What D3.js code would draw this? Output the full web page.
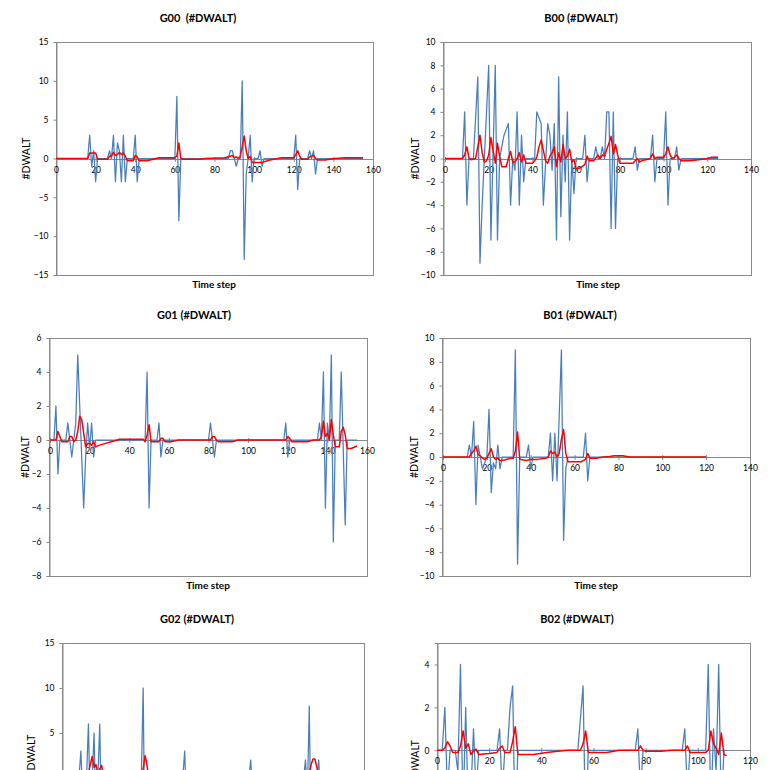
<!DOCTYPE html>
<html><head><meta charset="utf-8">
<script src="https://cdn.jsdelivr.net/npm/d3@7"></script>
<style>body{margin:0;background:#fff}svg{display:block}text{font-family:Lato,"Open Sans",sans-serif}</style>
</head><body><svg id="c" width="776" height="770"></svg>
<script>
// ---- data: [time step, value] vertices of each series ----
const g00Blue = [[0,0],[16,0],[17,3],[18,-1],[19,1],[20,-3],[21,0],[26,0],[27,1],[28,0],[29,3],[30,-3],[31,2],[32,1],[33,-3],[34,3],[35,-3],[36,0],[39,0],[40,3],[41,-3],[42,0],[60,0],[61,8],[62,-8],[63,0],[87,0],[88,1],[89,1],[90,0],[91,-1],[92,0],[93,0],[94,10],[95,-13],[96,-2],[97,0],[98,3],[99,-3],[100,0],[102,0],[103,1],[104,-1],[105,0],[120,0],[121,3],[122,-4],[123,0],[127,0],[128,1],[129,0],[130,1],[131,-2],[132,0],[155,0]];
const g00Red = [[0,0],[16,0],[17,0.7],[20,0.7],[21,-0.1],[26,-0.1],[27,0.3],[28,0.3],[29,0.8],[30,0.4],[31,0.5],[32,0.8],[33,0.5],[34,0.7],[35,0.3],[36,-0.3],[39,-0.3],[40,0.4],[41,0.2],[42,-0.3],[46,-0.3],[49,-0.1],[52,0.1],[60,0.1],[61,0.3],[62,2],[63,0],[64,-0.1],[73,-0.1],[75,0],[85,0.1],[88,0.3],[89,0.4],[90,0.1],[91,0.2],[92,0],[93,0.3],[94,1.5],[95,2.9],[96,1.0],[97,0],[98,0.3],[99,-0.5],[104,-0.5],[108,-0.2],[112,0],[114,0.1],[120,0.1],[121,0.5],[122,1.0],[123,0.3],[124,-0.1],[127,-0.1],[128,0.2],[129,0.3],[130,0.4],[131,0],[132,-0.2],[136,-0.2],[138,-0.1],[141,0],[146,0.1],[155,0.1]];

const b00Blue = [[0,0],[8,0],[9,4],[10,-4],[11,0],[13,0],[15,7],[16,-9],[17,-4],[18,0],[20,8],[21,-7],[23,8],[24,-7],[25,0],[27,2],[29,3],[30,-4],[31,0],[32,-1],[33,4],[34,-4],[35,2],[36,-2],[37,0],[41,0],[42,4],[44,3],[45,-4],[47,3],[48,2],[49,-1],[50,3],[51,-7],[52,7],[53,-5],[54,2],[55,-2],[56,4],[57,-7],[58,0],[59,-3],[60,0],[63,0],[64,2],[65,-2],[66,0],[68,0],[69,1],[70,0],[71,0],[72,1],[73,0],[74,4],[75,4],[76,-6],[77,4],[78,-6],[79,0],[86,0],[87,1],[88,-1],[89,0],[94,0],[95,2],[96,-2],[97,0],[100,0],[101,4],[102,-4],[103,0],[105,0],[106,1],[107,-1],[108,0],[125,0]];
const b00Red = [[0,0],[8,0],[9,0.3],[10,1],[11,0],[12,-0.1],[14,0],[15,1],[16,2],[17,0.5],[18,-0.3],[19,-0.2],[20,0.3],[21,1.8],[22,0.7],[23,-0.4],[24,1.3],[25,0.2],[26,-0.7],[28,-0.7],[29,0],[30,0.6],[31,-0.3],[32,-0.3],[33,0],[34,0.5],[35,-0.3],[36,0.3],[37,-0.4],[40,-0.4],[41,-0.2],[42,0.1],[43,1],[44,1.6],[45,0.7],[46,-0.2],[47,-0.4],[48,0.2],[49,0.5],[50,1],[51,-0.7],[52,0.5],[53,-0.3],[54,1.2],[55,0],[56,0.2],[57,0.8],[58,-0.3],[59,-0.1],[60,-0.9],[62,-0.8],[64,-0.5],[65,0.2],[66,-0.2],[68,-0.2],[70,0.3],[71,0],[72,0.3],[73,0.2],[74,0.8],[75,1.3],[76,1.9],[77,0.4],[78,1.2],[79,0.3],[80,-0.4],[86,-0.4],[87,-0.2],[88,0],[89,-0.3],[90,-0.2],[94,0],[95,0.4],[96,0],[97,0.1],[100,0.1],[101,0.4],[102,1],[103,0.3],[104,0],[105,0.1],[106,0.3],[107,0],[108,-0.2],[112,-0.2],[116,-0.1],[120,0],[122,0.1],[125,0.1]];

const g01Blue = [[0,0],[2,0],[3,2],[4,-2],[5,0],[8,0],[9,1],[10,0],[11,-1],[12,0],[13,1],[14,5],[17,-4],[18,-1],[19,1],[20,-0.5],[21,1],[22,-1],[23,0],[48,0],[49,4],[50,-4],[51,0],[54,0],[55,1],[56,-1],[57,0],[80,0],[81,1],[83,-1],[84,0],[118,0],[119,1],[120,-1],[121,0],[135,0],[136,1],[137,0],[138,4],[139,-4],[140,1],[141,0],[142,5],[143,-6],[144,0],[146,0],[147,4],[149,-5],[150,0],[155,0]];
const g01Red = [[0,0],[3,0],[4,0.5],[5,0.2],[6,-0.1],[9,-0.1],[10,0.2],[11,0.2],[12,-0.1],[13,0],[14,0.5],[15,1.4],[16,1.2],[17,0.4],[18,-0.4],[19,-0.2],[20,-0.2],[21,-0.3],[22,-0.1],[23,-0.4],[25,-0.3],[28,-0.2],[31,-0.1],[34,0],[35,0.05],[47,0.05],[48,-0.1],[49,0.3],[50,0.9],[51,-0.1],[55,-0.1],[56,0.1],[57,0.1],[58,-0.1],[61,-0.1],[65,0],[81,0],[82,0.2],[83,0.2],[84,0],[85,-0.1],[92,-0.1],[95,0],[119,0],[120,0.2],[121,0.1],[122,-0.1],[130,-0.1],[133,0],[136,0],[137,0.2],[138,1.1],[139,0.2],[140,0.4],[141,0],[142,1.2],[143,0.3],[144,-0.4],[146,-0.4],[147,0.5],[148,0.75],[149,0.3],[150,-0.5],[152,-0.5],[155,-0.35]];

const b01Blue = [[0,0],[11,0],[12,1],[13,0],[14,3],[15,-4],[16,1],[17,0],[18,-1],[20,0],[21,4],[22,-3],[23,-0.5],[24,-1],[25,1],[26,-1],[27,0],[32,0],[33,9],[34,-9],[35,0],[38,0],[39,1],[40,-1],[41,0],[48,0],[49,2],[50,-2],[51,2],[52,-2],[54,9],[55,-7],[56,-1],[57,0],[64,0],[65,2],[66,-2],[67,0],[120,0]];
const b01Red = [[0,0],[12,0],[13,0.3],[14,0.5],[15,0.9],[16,0.2],[17,0.1],[18,-0.1],[19,-0.2],[20,-0.1],[21,0.3],[22,0.7],[23,0],[24,-0.2],[25,-0.1],[26,-0.3],[28,-0.25],[31,-0.1],[32,-0.1],[33,0.5],[34,2.1],[35,-0.2],[38,-0.3],[40,-0.2],[43,-0.2],[47,-0.1],[48,0],[49,0.5],[50,0.3],[51,0.4],[52,0],[53,0.3],[54,1.5],[55,2.3],[56,0.3],[57,-0.4],[63,-0.4],[64,-0.3],[65,-0.2],[66,0.3],[67,-0.1],[70,-0.1],[73,0],[76,0.05],[78,0.1],[82,0.1],[85,0],[120,0]];

const g02Blue = [[0,0],[9,0],[10,3],[11,-2],[13,0],[14,6],[15,-4],[16,0],[17,5],[18,-5],[19,0],[20,6],[21,-6],[22,0],[42,0],[43,10],[44,-10],[45,0],[64,0],[65,3],[66,-3],[67,0],[99,0],[100,2],[101,-2],[102,0],[128,0],[129,2],[130,-2],[131,8],[132,-8],[133,0],[135,0],[136,2],[137,-2],[138,0],[155,0]];
const g02Red = [[0,0],[10,0],[11,0.8],[12,0.3],[14,0.5],[15,1.5],[16,2.4],[17,1.2],[18,1.5],[19,0.5],[20,1],[21,1.4],[22,0],[23,-0.3],[42,0],[43,1],[44,2.5],[45,1.5],[46,-0.2],[65,0.3],[66,0.8],[67,-0.1],[100,0.2],[101,0.6],[102,0],[130,0.5],[131,0.5],[132,1.5],[133,2.1],[134,2.1],[135,1.2],[136,0.2],[137,0.6],[138,-0.2],[155,0]];

const b02Blue = [[0,0],[2,0],[3,2],[4,-2],[5,0],[7,0],[8,-1],[9,4],[10,-3],[11,2],[12,-3],[13,-2],[14,1],[15,-2],[16,0],[22,0],[23,0],[24,1],[25,-2],[26,0],[27,0],[28,2],[29,3],[30,-4],[31,0],[54,0],[56,3],[57,-4],[58,0],[76,0],[77,1],[78,-2],[79,0],[94,0],[95,1],[96,-2],[97,0],[103,0],[104,4],[105,-3],[106,1],[107,-1],[108,4],[109,-3],[110,0],[111,0]];
const b02Red = [[0,0],[2,0],[3,0.1],[4,0.4],[5,0.2],[6,-0.1],[8,-0.1],[9,0.2],[10,0.9],[11,0.1],[12,0.3],[13,-0.2],[14,0],[15,0.05],[16,-0.2],[20,-0.15],[23,-0.1],[24,0.1],[25,0.2],[26,-0.1],[28,-0.1],[29,0.4],[30,1.1],[31,-0.2],[37,-0.2],[42,-0.1],[50,0],[55,0],[56,0.3],[57,0.9],[58,-0.1],[65,-0.1],[70,0],[77,0],[78,0.2],[79,0],[80,-0.05],[86,-0.05],[90,0],[95,0],[96,0.2],[97,-0.1],[103,-0.1],[104,0],[105,0.9],[106,0.3],[107,0.1],[108,-0.2],[109,0.8],[110,-0.2],[111,-0.25]];

// tick values
const xTicks160 = [0,20,40,60,80,100,120,140,160];
const xTicks140 = [0,20,40,60,80,100,120,140];
const xTicks120 = [0,20,40,60,80,100,120];
const yTicks15 = [-15,-10,-5,0,5,10,15];
const yTicks10 = [-10,-8,-6,-4,-2,0,2,4,6,8,10];
const yTicks6 = [-8,-6,-4,-2,0,2,4,6];
const yTicksG02 = [-10,-5,0,5,10,15];
const yTicksB02 = [-6,-4,-2,0,2,4];

const titles = ["G00  (#DWALT)","B00 (#DWALT)","G01 (#DWALT)","B01 (#DWALT)","G02 (#DWALT)","B02 (#DWALT)"];

// ---- layout ----
const panels = [
 {title:titles[0], blue:g00Blue, red:g00Red, xMax:160, xTicks:xTicks160, yDom:[-15,15], yTicks:yTicks15,
  L:56, R:373, T:42, B:275, x0:56, tx:198, ty:22, lx:214, ly:288, yx:26},
 {title:titles[1], blue:b00Blue, red:b00Red, xMax:140, xTicks:xTicks140, yDom:[-10,10], yTicks:yTicks10,
  L:443, R:751, T:42, B:275, x0:445, tx:581, ty:22, lx:598, ly:288, yx:415},
 {title:titles[2], blue:g01Blue, red:g01Red, xMax:160, xTicks:xTicks160, yDom:[-8,6], yTicks:yTicks6,
  L:49, R:367, T:338, B:576, x0:50, tx:194, ty:319, lx:208, ly:589, yx:25},
 {title:titles[3], blue:b01Blue, red:b01Red, xMax:140, xTicks:xTicks140, yDom:[-10,10], yTicks:yTicks10,
  L:442, R:750, T:338, B:576, x0:443, tx:580, ty:319, lx:596, ly:589, yx:414},
 {title:titles[4], blue:g02Blue, red:g02Red, xMax:160, xTicks:xTicks160, yDom:[-10,15], yTicks:yTicksG02,
  L:62, R:364, T:643, B:868, x0:62, tx:197, ty:623, lx:213, ly:880, yx:31},
 {title:titles[5], blue:b02Blue, red:b02Red, xMax:120, xTicks:xTicks120, yDom:[-6,5], yTicks:yTicksB02,
  L:437, R:750, T:643, B:879, x0:437, tx:577, ty:623, lx:594, ly:890, yx:415}
];

const H = 770;
const svg = d3.select("#c");
const axisCol = "#898989";

panels.forEach(p => {
  const g = svg.append("g");
  const x = d3.scaleLinear().domain([0, p.xMax]).range([p.x0, p.R]);
  const y = d3.scaleLinear().domain(p.yDom).range([p.B, p.T]);
  const y0 = Math.round(y(0)) + 0.5;

  // plot area border
  g.append("rect").attr("x", p.L + 0.5).attr("y", p.T + 0.5)
    .attr("width", p.R - p.L).attr("height", p.B - p.T)
    .attr("fill", "none").attr("stroke", axisCol).attr("stroke-width", 1);

  // y axis
  const ya = g.append("g").attr("transform", `translate(${p.L + 0.5},0)`)
    .call(d3.axisLeft(y).tickValues(p.yTicks).tickSize(3).tickPadding(5).tickFormat(d3.format("d")));
  ya.select(".domain").attr("stroke", axisCol);
  ya.selectAll(".tick line").attr("stroke", axisCol);
  ya.selectAll(".tick text").attr("font-size", 8.5).attr("fill", "#000").attr("font-family", "Lato");
  ya.selectAll(".tick").filter(d => y(d) > H - 3).select("text").remove();

  // x axis at value 0 with crossing ticks
  const xa = g.append("g").attr("transform", `translate(0,${y0})`)
    .call(d3.axisBottom(x).tickValues(p.xTicks).tickSize(3).tickFormat(d3.format("d")));
  xa.select(".domain").attr("stroke", axisCol).attr("d", `M${p.L},0H${p.R}`);
  xa.selectAll(".tick line").attr("stroke", axisCol).attr("y1", -2.5).attr("y2", 2.5);
  xa.selectAll(".tick text").attr("font-size", 8.5).attr("fill", "#000").attr("font-family", "Lato")
    .attr("y", 7).attr("dy", "0.71em");
  if (y0 + 7 > H) xa.selectAll(".tick text").remove();

  const line = d3.line().x(d => x(d[0])).y(d => y(d[1]));
  g.append("path").datum(p.blue).attr("d", line).attr("fill", "none")
    .attr("stroke", "#4A7EBB").attr("stroke-width", 1.25).attr("stroke-linejoin", "round");
  g.append("path").datum(p.red).attr("d", line).attr("fill", "none")
    .attr("stroke", "#FF0000").attr("stroke-width", 1.5).attr("stroke-linejoin", "round");

  // titles
  g.append("text").attr("x", p.tx).attr("y", p.ty).attr("text-anchor", "middle")
    .attr("font-size", 11).attr("font-weight", "bold").style("white-space", "pre").text(p.title);
  if (p.ly - 10 < H) {
    g.append("text").attr("x", p.lx).attr("y", p.ly).attr("text-anchor", "middle")
      .attr("font-size", 10).attr("font-weight", "bold").text("Time step");
  }
  const cy = (p.T + p.B) / 2;
  g.append("text").attr("transform", `translate(${p.yx + 3.5},${cy}) rotate(-90)`)
    .attr("text-anchor", "middle").attr("font-size", 10.5).text("#DWALT");
});
</script></body></html>
